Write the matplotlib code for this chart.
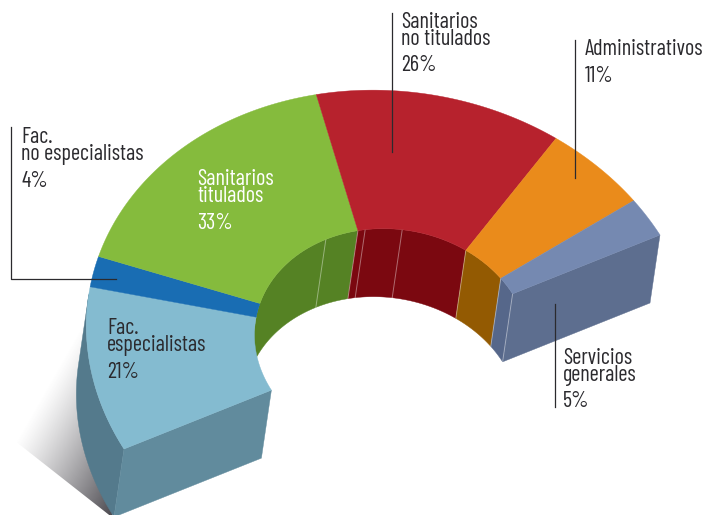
import numpy as np
import matplotlib
matplotlib.use("Agg")
import matplotlib.pyplot as plt
from matplotlib import font_manager as fm
from matplotlib.patches import Polygon

# slices from the left cut round to the right cut
categories = ["Fac. especialistas", "Fac. no especialistas", "Sanitarios titulados",
              "Sanitarios no titulados", "Administrativos", "Servicios generales"]
values = [21, 4, 33, 26, 11, 5]
top_colors = ["#84BBD0", "#196DB3", "#85BB3D", "#B7222D", "#EA8B1B", "#7589B1"]
wall_colors = ["#84BBD0", "#196DB3", "#558224", "#7B0810", "#935A02", "#56678A"]

label_lines = [["Fac.", "especialistas"], ["Fac.", "no especialistas"], ["Sanitarios", "titulados"],
               ["Sanitarios", "no titulados"], ["Administrativos"], ["Servicios", "generales"]]
label_x = [107, 21, 197, 401, 585, 563]
label_y = [334, 143, 185, 28, 55, 364]
pct_y = [378, 187, 229, 71, 82, 407]
label_colors = ["#2B2A2E", "#2B2A2E", "white", "#2B2A2E", "#2B2A2E", "#2B2A2E"]

# oblique projection of the half ring, in picture pixels
center = np.array([392.0, 342.0])
axis_u = np.array([268.0, -107.0])
axis_v = np.array([-147.0, -228.0])
depth = np.array([-10.0, 68.0])
inner_ratio = 0.45
wall_limit = 144  # past this angle the inner wall turns away from the viewer
seams = [90, 72.5, 57]


def ring(t_deg, r=1.0):
    t = np.radians(np.atleast_1d(t_deg))
    return center + r * (np.outer(np.cos(t), axis_u) + np.outer(np.sin(t), axis_v))


def arc(a, b, r=1.0):
    return ring(np.linspace(a, b, 80), r)


# narrow face if there is one, otherwise Roboto a bit smaller
installed = {f.name for f in fm.fontManager.ttflist}
if "Barlow Condensed" in installed:
    plt.rcParams["font.family"] = ["Barlow Condensed", "DejaVu Sans"]
    label_size = 16
else:
    plt.rcParams["font.family"] = ["Roboto", "DejaVu Sans"]
    label_size = 13

fig = plt.figure(figsize=(7.04, 5.15), dpi=100)
ax = fig.add_axes([0, 0, 1, 1])

# shadow under the left end
yy, xx = np.mgrid[0:515, 0:704]
a = np.array([15.0, 441.0])
b = np.array([85.0, 318.0])
c = np.array([113.0, 518.0])
n = np.array([b[1] - a[1], a[0] - b[0]])
n = n / np.hypot(*n)
if np.dot(c - a, n) < 0:
    n = -n
s = ((xx - a[0]) * n[0] + (yy - a[1]) * n[1]) / np.dot(c - a, n)
rgba = np.zeros((515, 704, 4))
rgba[..., :3] = np.array([70, 68, 74]) / 255
rgba[..., 3] = np.clip(s, 0, 1) ** 1.2
im = ax.imshow(rgba, extent=(0, 704, 515, 0), aspect="auto", zorder=1)
im.set_clip_path(Polygon([a, b, c], transform=ax.transData))

# angle limits come from the percentages, half a turn in total
edges = 180 - np.cumsum([0] + values) * 180 / sum(values)

# outer wall on the left
top = arc(wall_limit, 180)
ax.fill(*np.vstack([top, (top + depth)[::-1]]).T, color="#547A8C", lw=0.3, zorder=2)

# cut faces
for t, col in [(180, "#618B9D"), (0, "#5D6E8F")]:
    p = np.vstack([ring(t, 1), ring(t, inner_ratio)])
    ax.fill(*np.vstack([p, (p + depth)[::-1]]).T, color=col, lw=0.3, zorder=3)

# inner wall
for i in range(2, len(values)):
    hi = wall_limit if i == 2 else edges[i]
    top = arc(edges[i + 1], hi, inner_ratio)
    ax.fill(*np.vstack([top, (top + depth)[::-1]]).T, color=wall_colors[i], lw=0.3, zorder=4)
for t in list(edges[3:6]) + seams + [0]:
    p = ring(t, inner_ratio)[0]
    ax.plot([p[0], p[0] + depth[0]], [p[1], p[1] + depth[1]], color="white", alpha=0.4, lw=0.7, zorder=5)
blue_arc = arc(edges[2], edges[1], inner_ratio)
ax.plot(blue_arc[:, 0] - 1, blue_arc[:, 1], color=top_colors[1], lw=1, zorder=5)

# top faces
for i in range(len(values)):
    p = np.vstack([arc(edges[i], edges[i + 1]), arc(edges[i + 1], edges[i], inner_ratio)])
    ax.fill(*p.T, color=top_colors[i], lw=0.3, zorder=6)

# leader lines
line_col = "#2B2A2E"
ax.plot([392, 392], [13, 152], color=line_col, lw=0.9, zorder=7)
ax.plot([575, 575], [40, 178], color=line_col, lw=0.9, zorder=7)
ax.plot([11, 11, 116], [127, 279, 279], color=line_col, lw=0.9, zorder=7)
ax.plot([555, 555], [304, 407], color=line_col, lw=0.9, zorder=7)

# labels
for i, lines in enumerate(label_lines):
    for j, line in enumerate(lines):
        ax.text(label_x[i], label_y[i] + j * 17, line, fontsize=label_size, color=label_colors[i],
                ha="left", va="baseline", zorder=8)
    ax.text(label_x[i], pct_y[i], f"{values[i]}%", fontsize=label_size, color=label_colors[i],
            ha="left", va="baseline", zorder=8)

ax.set_xlim(0, 704)
ax.set_ylim(515, 0)
ax.axis("off")
fig.savefig("out.png", dpi=100)
